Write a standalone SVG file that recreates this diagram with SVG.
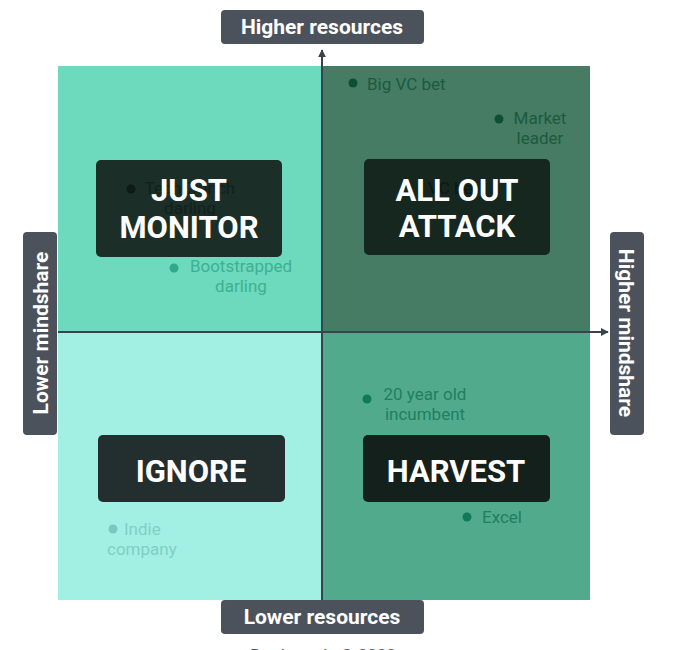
<svg xmlns="http://www.w3.org/2000/svg" width="676" height="650" viewBox="0 0 676 650">
<style>
  text { font-family: Roboto, "Liberation Sans", sans-serif; }
  .axis-box { fill: #4b525c; }
  .axis-txt { fill: #ffffff; font-size: 21px; font-weight: bold; text-anchor: middle; }
  .title { fill: #ffffff; font-size: 31px; font-weight: bold; text-anchor: middle; }
  .pt { font-size: 17px; }
  .axis-line { stroke: #38434c; stroke-width: 2; fill: none; }
</style>
<defs>
  <marker id="arr" viewBox="0 0 10 10" refX="9" refY="5" markerWidth="8" markerHeight="8" markerUnits="userSpaceOnUse" orient="auto">
    <path d="M0,0 L10,5 L0,10 z" fill="#38434c"/>
  </marker>
</defs>
<rect width="676" height="650" fill="#ffffff"/>

<g id="quadrants">
  <rect x="58" y="66" width="264" height="266" fill="#6dd9bd"/>
  <rect x="322" y="66" width="268" height="266" fill="#467c64"/>
  <rect x="58" y="332" width="264" height="268" fill="#a2f0e4"/>
  <rect x="322" y="332" width="268" height="268" fill="#52aa8c"/>
</g>

<g id="connectors">
  <line class="axis-line" x1="322" y1="600" x2="322" y2="50" marker-end="url(#arr)"/>
  <line class="axis-line" x1="58" y1="332" x2="608" y2="332" marker-end="url(#arr)"/>
</g>

<g id="point-big-vc-bet">
  <circle cx="353" cy="83" r="4.5" fill="#0d4f35"/>
  <text class="pt" x="367" y="90" fill="#1c5a3e">Big VC bet</text>
</g>
<g id="point-market-leader">
  <circle cx="499" cy="119" r="4.5" fill="#0d4f35"/>
  <text class="pt" x="540" y="124" fill="#1c5a3e" text-anchor="middle">Market</text>
  <text class="pt" x="540" y="144" fill="#1c5a3e" text-anchor="middle">leader</text>
</g>
<g id="point-bootstrapped">
  <circle cx="174" cy="268" r="4.5" fill="#2fa98a"/>
  <text class="pt" x="241" y="272" fill="#3fb092" text-anchor="middle">Bootstrapped</text>
  <text class="pt" x="241" y="292" fill="#3fb092" text-anchor="middle">darling</text>
</g>
<g id="point-incumbent">
  <circle cx="367" cy="399" r="4.5" fill="#0f7a5a"/>
  <text class="pt" x="425" y="400" fill="#1f7f60" text-anchor="middle">20 year old</text>
  <text class="pt" x="425" y="420" fill="#1f7f60" text-anchor="middle">incumbent</text>
</g>
<g id="point-excel">
  <circle cx="467" cy="517" r="4.5" fill="#0f7a5a"/>
  <text class="pt" x="482" y="523" fill="#1f7f60">Excel</text>
</g>
<g id="point-indie">
  <circle cx="113" cy="529" r="4.5" fill="#78c9bd"/>
  <text class="pt" x="124" y="535" fill="#80cfc3">Indie</text>
  <text class="pt" x="107" y="555" fill="#80cfc3">company</text>
</g>

<g id="just-monitor">
  <rect x="96" y="160" width="186" height="97" rx="5" fill="#1b2e28"/>
  <circle cx="131" cy="189" r="4.5" fill="#0e1a16"/>
  <text class="pt" x="190" y="194" fill="#12211c" text-anchor="middle">TechCrunch</text>
  <text class="pt" x="190" y="214" fill="#12211c" text-anchor="middle">darling</text>
  <text class="title" x="189" y="201">JUST</text>
  <text class="title" x="189" y="238">MONITOR</text>
</g>
<g id="all-out-attack">
  <rect x="364" y="159" width="186" height="96" rx="5" fill="#15271f"/>
  <text class="pt" x="453" y="194" fill="#0c1813" text-anchor="middle">VC bet</text>
  <text class="title" x="457" y="201">ALL OUT</text>
  <text class="title" x="457" y="237">ATTACK</text>
</g>
<g id="ignore">
  <rect x="98" y="435" width="187" height="67" rx="5" fill="#232f2e"/>
  <text class="title" x="191" y="482">IGNORE</text>
</g>
<g id="harvest">
  <rect x="363" y="435" width="187" height="67" rx="5" fill="#14201c"/>
  <text class="title" x="456" y="482">HARVEST</text>
</g>

<g id="label-higher-resources">
  <rect class="axis-box" x="221" y="10" width="203" height="34" rx="4"/>
  <text class="axis-txt" x="322" y="34">Higher resources</text>
</g>
<g id="label-lower-resources">
  <rect class="axis-box" x="221" y="600" width="203" height="34" rx="4"/>
  <text class="axis-txt" x="322" y="624">Lower resources</text>
</g>
<g id="label-lower-mindshare">
  <rect class="axis-box" x="23" y="232" width="34" height="203" rx="4"/>
  <text class="axis-txt" transform="translate(48,333) rotate(-90)" x="0" y="0">Lower mindshare</text>
</g>
<g id="label-higher-mindshare">
  <rect class="axis-box" x="610" y="232" width="34" height="203" rx="4"/>
  <text class="axis-txt" transform="translate(619,333) rotate(90)" x="0" y="0">Higher mindshare</text>
</g>

<text x="323" y="661" font-size="17" fill="#555b63" text-anchor="middle">Battlecards © 2022</text>
</svg>
